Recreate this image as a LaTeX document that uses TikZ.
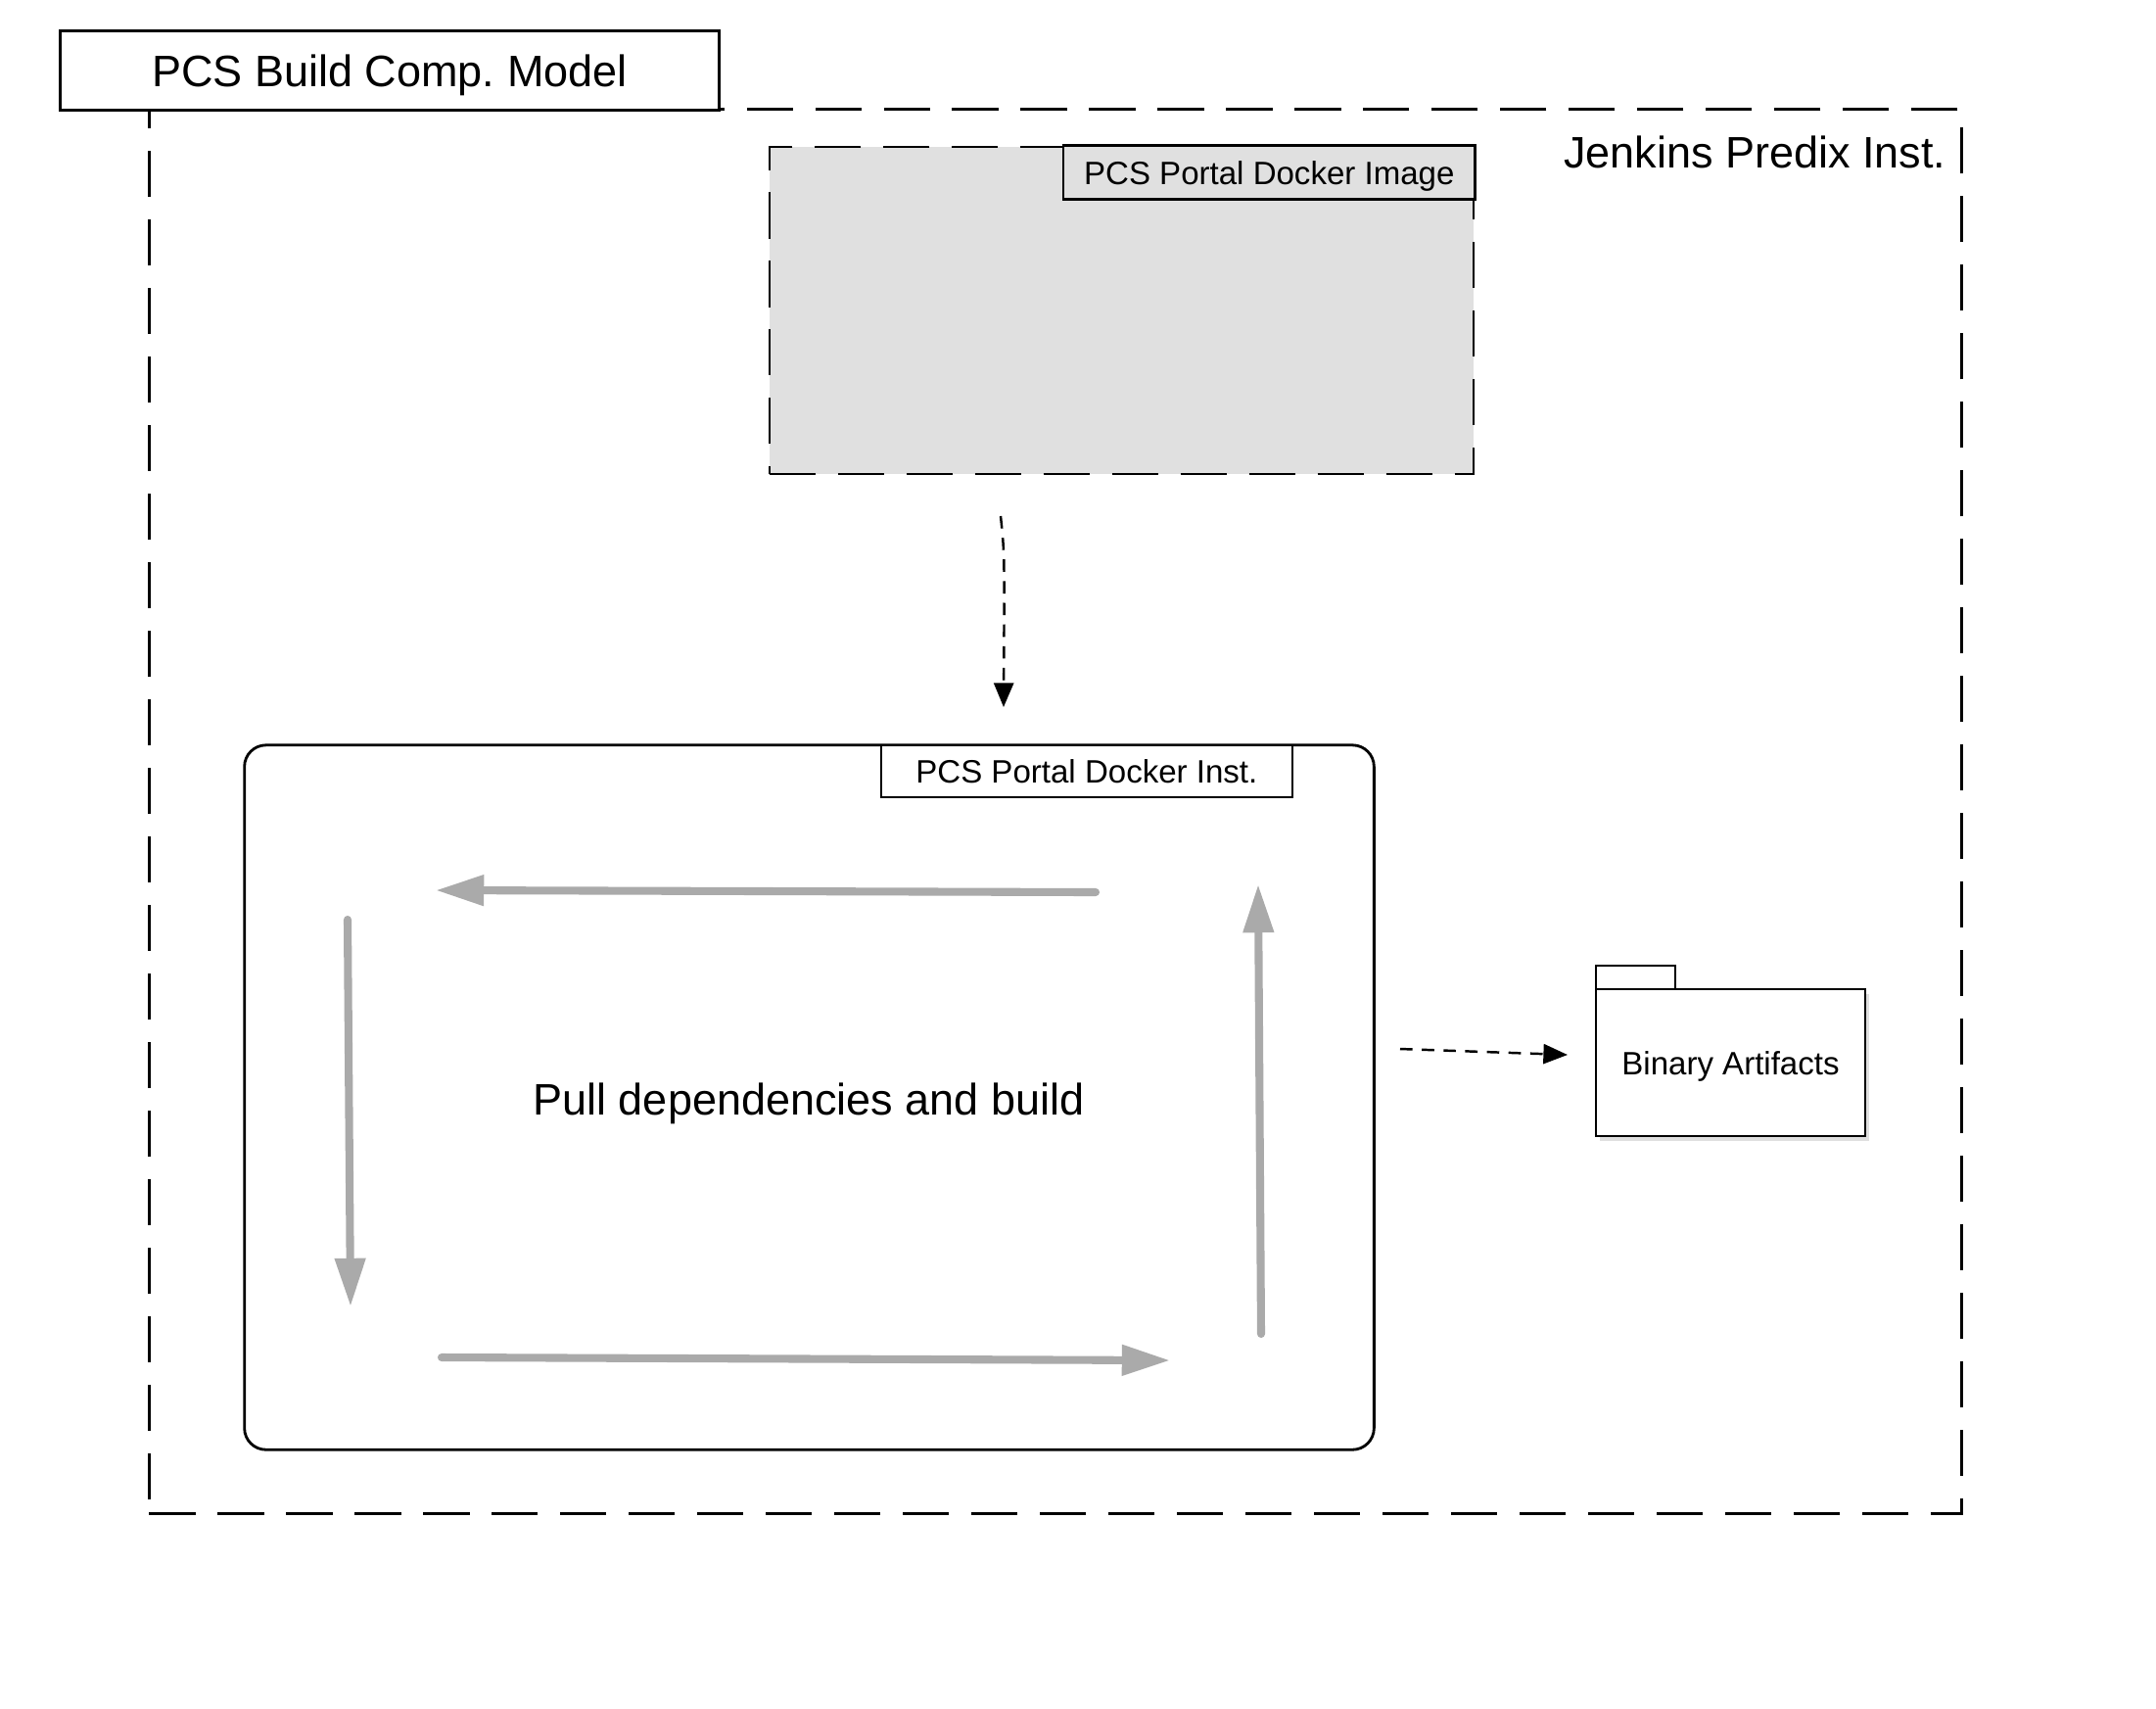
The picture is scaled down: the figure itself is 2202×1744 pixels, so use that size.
\documentclass[tikz,border=0pt]{standalone}
\usepackage{fontspec}
\setmainfont{Liberation Sans}
\usetikzlibrary{arrows.meta,shadows}
\definecolor{imgfill}{HTML}{E0E0E0}
\definecolor{cyc}{HTML}{AAAAAA}
\frenchspacing
\begin{document}
\begin{tikzpicture}[x=0.01cm,y=-0.01cm,
  box/.style={draw, line width=0.7pt, inner sep=0pt, outer sep=0pt},
  bigdash/.style={line width=0.85pt, dash pattern=on 13.4pt off 6.5pt},
  smalldash/.style={line width=0.7pt, dash pattern=on 3.6pt off 2.7pt, -{Triangle[length=7pt,width=5.7pt]}},
  cycarrow/.style={draw=cyc, line width=2.3pt, line cap=round, -{Triangle[length=14pt,width=8.5pt]}},
  bigfont/.style={font=\fontsize{12.8}{15}\selectfont, text depth=0pt},
  smallfont/.style={font=\fontsize{9.4}{11}\selectfont, text depth=0pt},
]
\useasboundingbox (0,0) rectangle (2202,1744);
% outer frame
\node[draw, bigdash, inner sep=0pt, minimum width=18.5cm, minimum height=14.33cm] (frame) at (1078,828.5) {};
\node[box, fill=white, line width=0.75pt, minimum width=6.72cm, minimum height=0.81cm, bigfont] (title) at (398,72) {PCS Build Comp. Model};
\node[bigfont, anchor=east, inner sep=0pt] (jlabel) at (1988,155) {Jenkins Predix Inst.};
% docker image
\node[draw, bigdash, line width=0.7pt, fill=imgfill, inner sep=0pt, minimum width=7.19cm, minimum height=3.34cm] (img) at (1145.5,317) {};
\node[box, fill=imgfill, minimum width=4.2cm, minimum height=0.55cm, smallfont, anchor=north east] (imglabel) at (img.north east) {PCS Portal Docker Image};
% docker instance
\node[draw, line width=0.8pt, rounded corners=0.22cm, inner sep=0pt, minimum width=11.53cm, minimum height=7.19cm] (inst) at (826.5,1120.5) {};
\node[box, fill=white, minimum width=4.2cm, minimum height=0.53cm, smallfont, anchor=north east] (instlabel) at (1320,761) {PCS Portal Docker Inst.};
\node[bigfont] (pull) at (826,1122) {Pull dependencies and build};
% cycle arrows
\coordinate (t1) at (1119,911); \coordinate (t2) at (445,909);
\coordinate (l1) at (355,939); \coordinate (l2) at (358,1334);
\coordinate (b1) at (451,1386); \coordinate (b2) at (1195,1389);
\coordinate (r1) at (1288,1362); \coordinate (r2) at (1285,903);
\draw[cycarrow] (t1) -- (t2);
\draw[cycarrow] (l1) -- (l2);
\draw[cycarrow] (b1) -- (b2);
\draw[cycarrow] (r1) -- (r2);
% binary artifacts
\node[box, fill=white, drop shadow={opacity=0.25, shadow xshift=1.2pt, shadow yshift=-1.5pt}, minimum width=2.75cm, minimum height=1.50cm, smallfont] (bin) at (1767.5,1085) {Binary Artifacts};
\node[box, fill=white, minimum width=0.81cm, minimum height=0.24cm, anchor=south west] (tab) at (bin.north west) {};
% connectors
\coordinate (d1) at (1022,527); \coordinate (d2) at (1025,722);
\draw[smalldash] (d1) .. controls (1026,565) .. (d2);
\coordinate (e1) at (1430,1071); \coordinate (e2) at (1601,1077);
\draw[smalldash] (e1) -- (e2);
\end{tikzpicture}
\end{document}
